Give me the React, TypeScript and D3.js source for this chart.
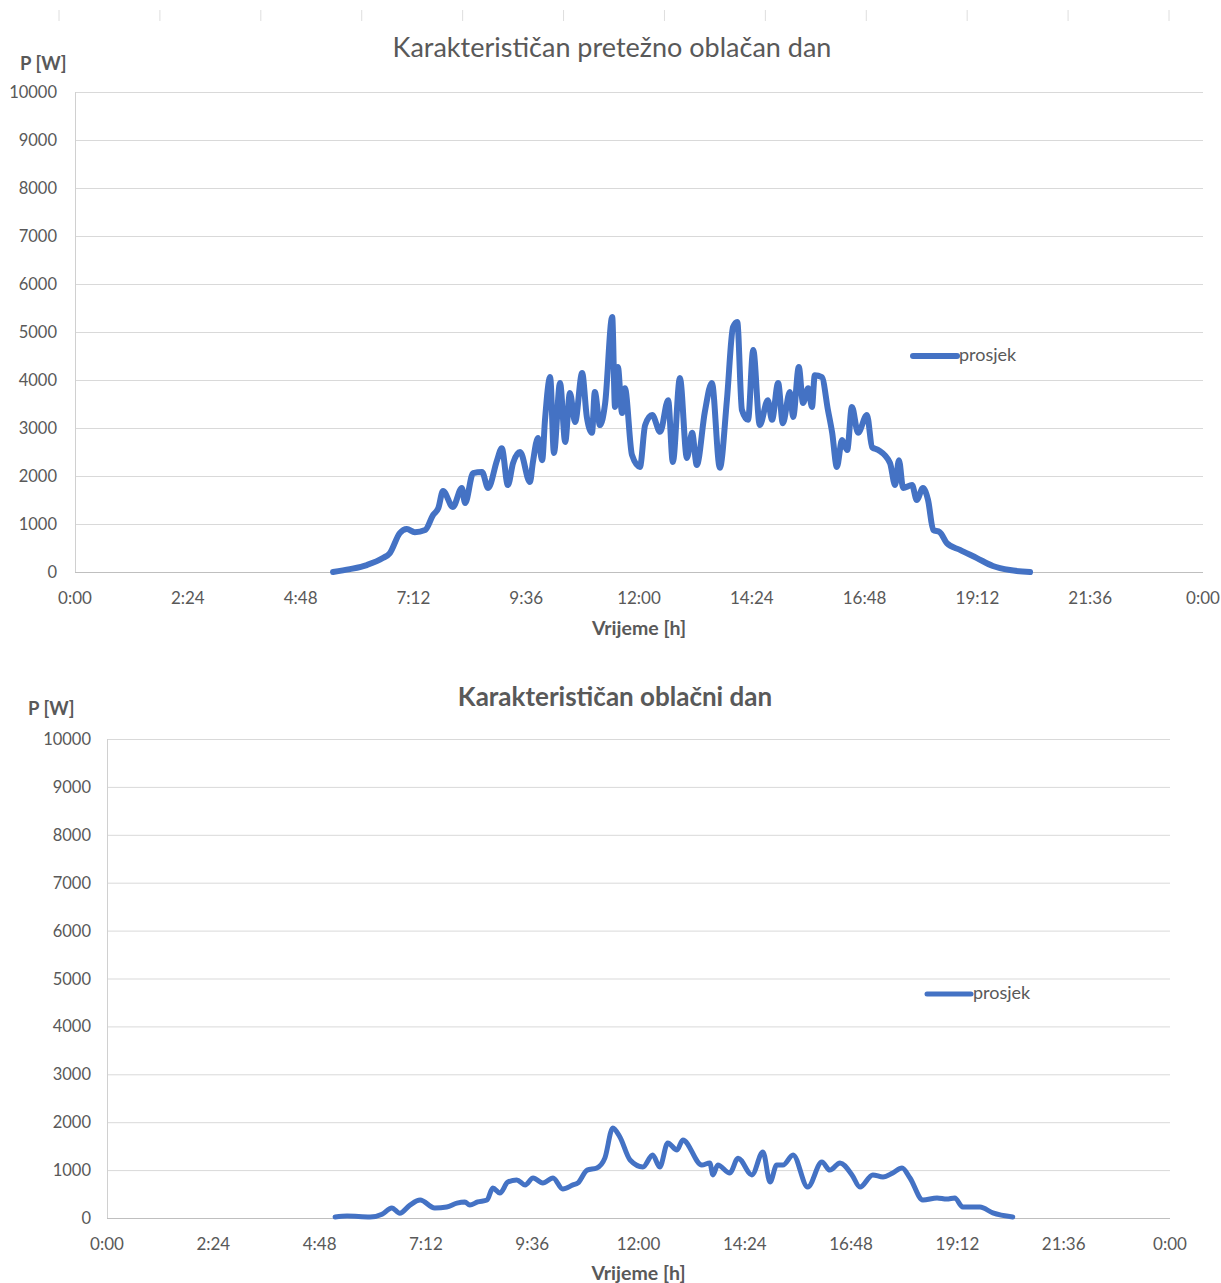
import React, { useEffect, useRef } from 'react';
import * as d3 from 'd3';

// time in hours, power in W
const topHours = [5.49, 5.85, 6.21, 6.55, 6.7, 6.91, 7.06, 7.23, 7.45, 7.62, 7.73, 7.83, 8.04, 8.23, 8.3, 8.47, 8.66, 8.79, 8.98, 9.08, 9.21, 9.32, 9.47, 9.68, 9.74, 9.85, 9.94, 10.0, 10.11, 10.19, 10.32, 10.43, 10.53, 10.64, 10.79, 10.89, 11.0, 11.06, 11.17, 11.28, 11.43, 11.49, 11.55, 11.64, 11.7, 11.85, 12.02, 12.13, 12.28, 12.45, 12.62, 12.72, 12.87, 13.02, 13.13, 13.23, 13.4, 13.55, 13.72, 13.87, 14.0, 14.09, 14.19, 14.32, 14.43, 14.57, 14.74, 14.83, 14.96, 15.06, 15.21, 15.28, 15.4, 15.49, 15.6, 15.68, 15.74, 15.89, 16.02, 16.11, 16.21, 16.32, 16.43, 16.53, 16.66, 16.85, 16.96, 17.09, 17.34, 17.45, 17.53, 17.62, 17.81, 17.91, 18.04, 18.15, 18.26, 18.4, 18.55, 18.83, 19.19, 19.53, 19.89, 20.32];
const topPower = [0, 60, 145, 290, 395, 810, 895, 830, 875, 1190, 1330, 1690, 1355, 1750, 1435, 2060, 2085, 1750, 2330, 2580, 1810, 2270, 2500, 1875, 2270, 2790, 2330, 3170, 4060, 2480, 3940, 2710, 3730, 3125, 4145, 3230, 2900, 3750, 3060, 3520, 5310, 3440, 4270, 3310, 3830, 2440, 2190, 3060, 3270, 2920, 3580, 2290, 4040, 2375, 2900, 2230, 3330, 3940, 2170, 3580, 5100, 5210, 3375, 3170, 4625, 3060, 3580, 3170, 3940, 3100, 3750, 3230, 4270, 3520, 3830, 3440, 4100, 4060, 3375, 2900, 2190, 2750, 2540, 3440, 2900, 3270, 2600, 2540, 2270, 1810, 2330, 1750, 1810, 1500, 1750, 1500, 875, 830, 600, 460, 290, 125, 40, 0];

const bottomHours = [5.15, 5.42, 5.94, 6.21, 6.43, 6.61, 6.84, 7.07, 7.4, 7.67, 7.9, 8.08, 8.19, 8.37, 8.58, 8.71, 8.87, 9.05, 9.25, 9.44, 9.62, 9.84, 10.07, 10.29, 10.52, 10.63, 10.84, 11.06, 11.24, 11.42, 11.58, 11.81, 12.1, 12.32, 12.48, 12.66, 12.87, 13.0, 13.43, 13.61, 13.68, 13.79, 14.06, 14.25, 14.56, 14.81, 14.97, 15.12, 15.26, 15.49, 15.82, 16.14, 16.32, 16.55, 16.82, 17.0, 17.29, 17.52, 17.74, 17.95, 18.13, 18.42, 18.74, 18.96, 19.14, 19.32, 19.71, 20.0, 20.45];
const bottomPower = [20, 40, 20, 80, 210, 100, 270, 375, 210, 230, 310, 335, 270, 335, 375, 625, 520, 750, 795, 690, 835, 730, 835, 605, 690, 730, 1000, 1045, 1250, 1880, 1690, 1210, 1065, 1315, 1065, 1565, 1420, 1630, 1105, 1150, 900, 1105, 940, 1250, 900, 1380, 750, 1105, 1105, 1315, 645, 1170, 1000, 1150, 900, 645, 900, 855, 940, 1045, 835, 375, 420, 395, 420, 230, 230, 105, 20];

const timeTicks = [0, 2.4, 4.8, 7.2, 9.6, 12, 14.4, 16.8, 19.2, 21.6, 24];
const powerTicks = [0, 1000, 2000, 3000, 4000, 5000, 6000, 7000, 8000, 9000, 10000];
const stripTicks = [0, 1, 2, 3, 4, 5, 6, 7, 8, 9, 10, 11];

const seriesName = 'prosjek';
const yTitle = 'P [W]';
const xTitle = 'Vrijeme [h]';

const FONT = "Lato, 'Liberation Sans', sans-serif";
const TEXT = '#595959';
const BLUE = '#4472C4';

const fmtTime = (h: number) => {
  const total = Math.round(h * 60) % (24 * 60);
  const hh = Math.floor(total / 60);
  const mm = total % 60;
  return `${hh}:${mm < 10 ? '0' : ''}${mm}`;
};

interface ChartCfg {
  title: string;
  titleBold: boolean;
  titleSize: number;
  titleX: number;
  titleY: number;
  left: number;
  right: number;
  top: number;
  bottom: number;
  yTitleX: number;
  yTitleY: number;
  yLabelX: number;
  xLabelY: number;
  xTitleY: number;
  legendX: number;
  legendY: number;
  lineWidth: number;
  hours: number[];
  power: number[];
}

const charts: ChartCfg[] = [
  {
    title: 'Karakterističan pretežno oblačan dan', titleBold: false, titleSize: 27, titleX: 612, titleY: 57,
    left: 75, right: 1203, top: 92, bottom: 572,
    yTitleX: 20, yTitleY: 70, yLabelX: 57, xLabelY: 604, xTitleY: 635,
    legendX: 913, legendY: 356, lineWidth: 6,
    hours: topHours, power: topPower,
  },
  {
    title: 'Karakterističan oblačni dan', titleBold: true, titleSize: 26, titleX: 615, titleY: 706,
    left: 107, right: 1170, top: 739, bottom: 1218,
    yTitleX: 28, yTitleY: 715, yLabelX: 91, xLabelY: 1250, xTitleY: 1280,
    legendX: 927, legendY: 994, lineWidth: 5,
    hours: bottomHours, power: bottomPower,
  },
];

const App: React.FC = () => {
  const ref = useRef<SVGSVGElement | null>(null);

  useEffect(() => {
    const svg = d3.select(ref.current);
    svg.selectAll('*').remove();
    svg.append('rect').attr('width', 1221).attr('height', 1283).attr('fill', 'white');

    // faint tick marks of the chart cut off above
    const strip = d3.scaleLinear().domain([0, 11]).range([59, 1169]);
    svg.append('g')
      .selectAll('line')
      .data(stripTicks)
      .enter()
      .append('line')
      .attr('x1', (d: any) => strip(d))
      .attr('x2', (d: any) => strip(d))
      .attr('y1', 10)
      .attr('y2', 21)
      .attr('stroke', '#dedede')
      .attr('stroke-width', 1);

    charts.forEach(c => {
      const g = svg.append('g');
      const x = d3.scaleLinear().domain([0, 24]).range([c.left, c.right]);
      const y = d3.scaleLinear().domain([0, 10000]).range([c.bottom, c.top]);

      g.append('g')
        .selectAll('line')
        .data(powerTicks.filter(d => d > 0))
        .enter()
        .append('line')
        .attr('x1', c.left)
        .attr('x2', c.right)
        .attr('y1', (d: any) => y(d) + 0.5)
        .attr('y2', (d: any) => y(d) + 0.5)
        .attr('stroke', '#d9d9d9')
        .attr('stroke-width', 1);

      // axis lines
      g.append('line')
        .attr('x1', c.left).attr('x2', c.right)
        .attr('y1', y(0) + 0.5).attr('y2', y(0) + 0.5)
        .attr('stroke', '#bfbfbf').attr('stroke-width', 1);
      g.append('line')
        .attr('x1', c.left + 0.5).attr('x2', c.left + 0.5)
        .attr('y1', y(10000)).attr('y2', y(0))
        .attr('stroke', '#d0d0d0').attr('stroke-width', 1);

      g.append('g')
        .selectAll('text')
        .data(powerTicks)
        .enter()
        .append('text')
        .attr('x', c.yLabelX)
        .attr('y', (d: any) => y(d) + 6)
        .attr('text-anchor', 'end')
        .attr('font-family', FONT)
        .attr('font-size', 16.5)
        .attr('fill', TEXT)
        .text((d: any) => d);

      g.append('g')
        .selectAll('text')
        .data(timeTicks)
        .enter()
        .append('text')
        .attr('x', (d: any) => x(d))
        .attr('y', c.xLabelY)
        .attr('text-anchor', 'middle')
        .attr('font-family', FONT)
        .attr('font-size', 17)
        .attr('fill', TEXT)
        .text((d: any) => fmtTime(d));

      const pts: [number, number][] = c.hours.map((h, i) => [h, c.power[i]]);
      const line = d3.line<[number, number]>()
        .x(d => x(d[0]))
        .y(d => y(d[1]))
        .curve(d3.curveMonotoneX);

      g.append('path')
        .attr('d', line(pts) as string)
        .attr('fill', 'none')
        .attr('stroke', BLUE)
        .attr('stroke-width', c.lineWidth)
        .attr('stroke-linejoin', 'round')
        .attr('stroke-linecap', 'round');

      g.append('text')
        .attr('x', c.titleX)
        .attr('y', c.titleY)
        .attr('text-anchor', 'middle')
        .attr('font-family', FONT)
        .attr('font-size', c.titleSize)
        .attr('font-weight', c.titleBold ? 'bold' : 'normal')
        .attr('fill', TEXT)
        .text(c.title);

      g.append('text')
        .attr('x', c.yTitleX)
        .attr('y', c.yTitleY)
        .attr('font-family', FONT)
        .attr('font-size', 18.5)
        .attr('font-weight', 'bold')
        .attr('fill', TEXT)
        .text(yTitle);

      g.append('text')
        .attr('x', x(12))
        .attr('y', c.xTitleY)
        .attr('text-anchor', 'middle')
        .attr('font-family', FONT)
        .attr('font-size', 19.5)
        .attr('font-weight', 'bold')
        .attr('fill', TEXT)
        .text(xTitle);

      // legend
      g.append('line')
        .attr('x1', c.legendX).attr('x2', c.legendX + 44)
        .attr('y1', c.legendY).attr('y2', c.legendY)
        .attr('stroke', BLUE)
        .attr('stroke-width', c.lineWidth)
        .attr('stroke-linecap', 'round');
      g.append('text')
        .attr('x', c.legendX + 46)
        .attr('y', c.legendY + 5)
        .attr('font-family', FONT)
        .attr('font-size', 18)
        .attr('fill', TEXT)
        .text(seriesName);
    });
  }, []);

  return (
    <svg
      ref={ref}
      width={1221}
      height={1283}
      style={{ position: 'absolute', left: 0, top: 0, display: 'block' }}
    />
  );
};

export default App;
